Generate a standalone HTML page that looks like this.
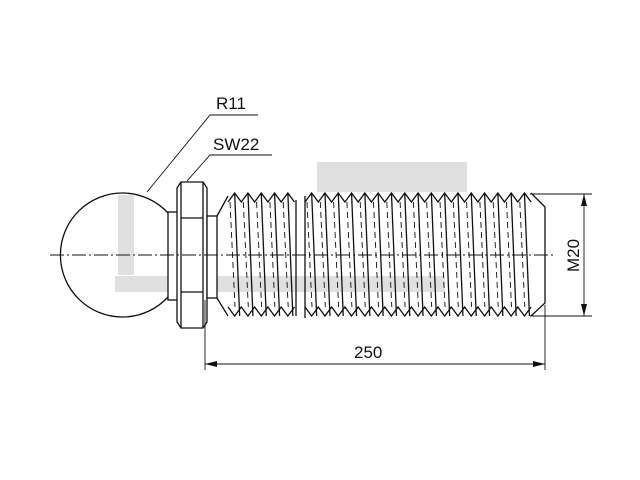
<!DOCTYPE html>
<html><head><meta charset="utf-8"><style>
html,body{margin:0;padding:0;background:#fff;width:640px;height:480px;overflow:hidden}
svg{display:block}
text{font-family:"Liberation Sans",sans-serif;font-size:17px;fill:#111}
</style></head><body>
<svg id="s" width="640" height="480" viewBox="0 0 640 480" xmlns="http://www.w3.org/2000/svg">
<g fill="#e0e0e0">
<rect x="317" y="162" width="150" height="30"/>
<rect x="115" y="276" width="330" height="16"/>
<rect x="118" y="195" width="16" height="80"/>
</g>
<g fill="none" stroke="#111" stroke-width="1.3" id="g">
<path d="M168,213 A62,62 0 1 0 168,297"/>
<rect x="168" y="212" width="10" height="88" fill="#fff"/>
<path d="M177,188 L181,182 L203,182 L207,188 L207,322 L203,328 L181,328 L177,322 Z" fill="#fff"/>
<path d="M181,182 L181,328 M203,182 L203,328 M181,218 L203,218 M181,292 L203,292"/>
<rect x="207" y="216" width="10" height="82" fill="#fff"/>
<path d="M217,216 L228,196 M217,298 L228,316"/>
<path d="M296,200 L296,316 M305,196 L305,318"/>
<path d="M531,193 L545,207 L545,303 L531,316"/>
</g>
<g stroke="#111" stroke-width="1" stroke-dasharray="14,3,2,3" fill="none">
<line x1="50" y1="255" x2="556" y2="255"/>
</g>
<g stroke="#111" stroke-width="0.9" fill="none">
<line x1="205" y1="300" x2="205" y2="370"/>
<line x1="545" y1="305" x2="545" y2="370"/>
<line x1="205" y1="364" x2="545" y2="364"/>
<line x1="530" y1="194" x2="592" y2="194"/>
<line x1="530" y1="316" x2="592" y2="316"/>
<line x1="584" y1="194" x2="584" y2="316"/>
<polyline points="147,192 210,115 258,115"/>
<polyline points="187,181 210,155 272,155"/>
</g>
<g fill="#111">
<polygon points="205,364 217,361 217,367"/>
<polygon points="545,364 533,361 533,367"/>
<polygon points="584,194 581,206 587,206"/>
<polygon points="584,316 581,304 587,304"/>
</g>
<text x="354" y="358">250</text>
<text x="216" y="109">R11</text>
<text x="213" y="150">SW22</text>
<text transform="translate(579,272) rotate(-90)">M20</text>
</svg>
<script>
var g=document.getElementById('g'),ns='http://www.w3.org/2000/svg';
function p(d,dash){var e=document.createElementNS(ns,'path');e.setAttribute('d',d);if(dash)e.setAttribute('stroke-dasharray','6,4');if(dash)e.setAttribute('stroke-width','0.9');g.appendChild(e);}
function thread(x0,n){var P=13.3,t='',b='';for(var i=0;i<n;i++){var x=x0+i*P;
 t+=(i==0?'M':'L')+x+',202 L'+(x+P/2)+',193 ';
 b+=(i==0?'M':'L')+x+',307 L'+(x+P/2)+',316 ';
 p('M'+(x+P/2)+',193 L'+(x+P/2+5)+',316');p('M'+(x+2)+',202 L'+(x+7)+',307',1);
 }
 var xe=x0+n*P;t+='L'+xe+',202';b+='L'+xe+',307';
 p(t);p(b);}
thread(228,5);thread(305,17);
</script>
</body></html>
